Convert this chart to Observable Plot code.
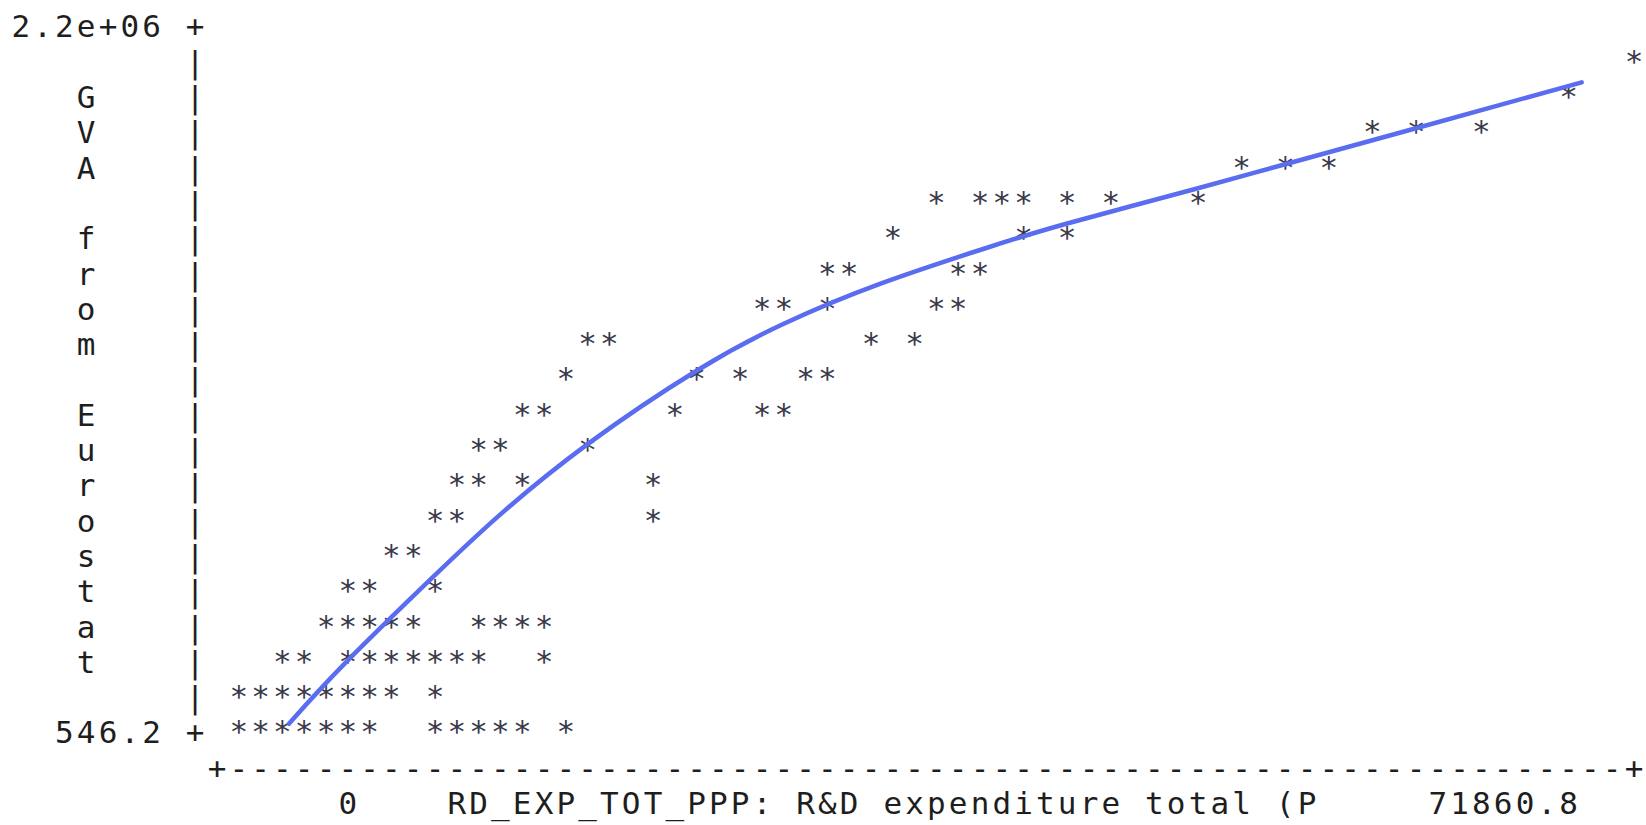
<!DOCTYPE html>
<html><head><meta charset="utf-8">
<script src="https://cdn.jsdelivr.net/npm/d3@7"></script>
<script src="https://cdn.jsdelivr.net/npm/@observablehq/plot@0.6"></script>
<style>html,body{margin:0;padding:0;background:#fff;overflow:hidden}#chart svg{display:block}</style>
</head><body><div id="chart"></div>
<script>
const rdExp = [
  71861,
  68493,
  58387, 60633, 64001,
  51650, 53896, 56141,
  35930, 38176, 39299, 40422, 42667, 44913, 49404,
  33685, 40422, 42667,
  30316, 31439, 37053, 38176,
  26948, 28071, 30316, 35930, 37053,
  17965, 19088, 32562, 34808,
  16842, 23579, 25825, 29193, 30316,
  14597, 15720, 22456, 26948, 28071,
  12351, 13474, 17965,
  11228, 12351, 14597, 21334,
  10105, 11228, 21334,
  7860, 8983,
  5614, 6737, 10105,
  4491, 5614, 6737, 7860, 8983, 12351, 13474, 14597, 15720,
  2246, 3368, 5614, 6737, 7860, 8983, 10105, 11228, 12351, 15720,
  0, 1123, 2246, 3368, 4491, 5614, 6737, 7860, 10105,
  0, 1123, 2246, 3368, 4491, 5614, 6737, 10105, 11228, 12351, 13474, 14597, 16842
];
const gva = [
  2090027,
  1980055,
  1870082, 1870082, 1870082,
  1760109, 1760109, 1760109,
  1650137, 1650137, 1650137, 1650137, 1650137, 1650137, 1650137,
  1540164, 1540164, 1540164,
  1430191, 1430191, 1430191, 1430191,
  1320219, 1320219, 1320219, 1320219, 1320219,
  1210246, 1210246, 1210246, 1210246,
  1100273, 1100273, 1100273, 1100273, 1100273,
  990300, 990300, 990300, 990300, 990300,
  880328, 880328, 880328,
  770355, 770355, 770355, 770355,
  660382, 660382, 660382,
  550410, 550410,
  440437, 440437, 440437,
  330464, 330464, 330464, 330464, 330464, 330464, 330464, 330464, 330464,
  220491, 220491, 220491, 220491, 220491, 220491, 220491, 220491, 220491, 220491,
  110519, 110519, 110519, 110519, 110519, 110519, 110519, 110519, 110519,
  546.2, 546.2, 546.2, 546.2, 546.2, 546.2, 546.2, 546.2, 546.2, 546.2, 546.2, 546.2, 546.2
];
// Fitted curve
const fitRdExp = [2583, 5502, 9993, 13474, 17965, 23579, 28071, 33123, 38513, 42667, 49404, 53896, 60633, 69166];
const fitGva = [6045, 196297, 462431, 658183, 877028, 1105772, 1252035, 1378504, 1488476, 1564358, 1674330, 1749112, 1861284, 2004247];

// Axis range and labels
const xMin = 0, xMax = 71860.8;
const yMin = 546.2, yMax = 2200000;
const xTickLabels = ["0", "71860.8"];
const yTickLabels = ["2.2e+06", "546.2"];
const xAxisTitle = "RD_EXP_TOT_PPP: R&D expenditure total (P";
const yAxisTitle = "GVA from Eurostat";

// text-plot character grid
const nCols = 64, nRows = 20;
const stepX = (xMax - xMin) / nCols, stepY = (yMax - yMin) / nRows;
const colX = c => xMin + c * stepX;
const rowY = r => yMax - r * stepY;
function chars(str, c0, r0, vertical = false) {
  return Array.from(str).map((ch, i) => ({
    ch, x: colX(vertical ? c0 : c0 + i), y: rowY(vertical ? r0 + i : r0)
  })).filter(d => d.ch !== " ");
}
const frame = [
  ...chars(yTickLabels[0] + " +", -2 - (yTickLabels[0].length + 1), 0),
  ...chars(yTickLabels[1] + " +", -2 - (yTickLabels[1].length + 1), nRows),
  ...chars("|".repeat(nRows - 1), -2, 1, true),
  ...chars("+" + "-".repeat(nCols) + "+", -1, nRows + 1),
  ...chars(xTickLabels[0], 5, nRows + 2),
  ...chars(xAxisTitle, 10, nRows + 2),
  ...chars(xTickLabels[1], 55, nRows + 2),
  ...chars(yAxisTitle, -7, 2, true)
];
const points = rdExp.map((x, i) => ({x, y: gva[i]}));
const fit = fitRdExp.map((x, i) => ({x, y: fitGva[i]}));

const FONT = "DejaVu Sans Mono";
const chart = Plot.plot({
  width: 1646,
  height: 825,
  margin: 0,
  style: {background: "#fff", fontFamily: FONT},
  x: {domain: [xMin, xMax], range: [238.3, 1633.5], axis: null},
  y: {domain: [yMin, yMax], range: [725, 19], axis: null},
  marks: [
    Plot.text(frame, {x: "x", y: "y", text: "ch", fontSize: 31, fontFamily: FONT, fill: "#1e1e1e", lineAnchor: "middle", dy: 8}),
    Plot.text(points, {x: "x", y: "y", text: () => "*", fontSize: 31, fontFamily: FONT, fill: "#3a3a4a", lineAnchor: "middle", dy: 7}),
    Plot.line(fit, {x: "x", y: "y", stroke: "#5a6df0", strokeWidth: 4.5, curve: "natural"})
  ]
});
document.getElementById("chart").appendChild(chart);
</script>
</body></html>
